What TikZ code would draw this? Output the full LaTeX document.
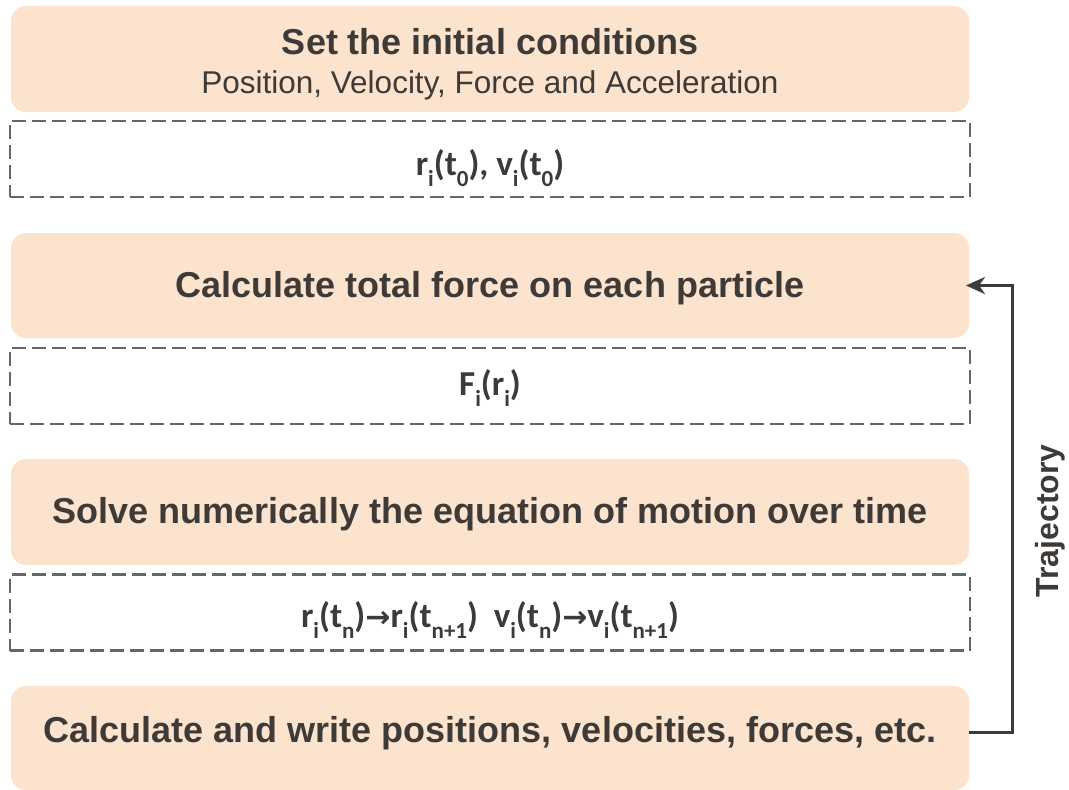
\documentclass[tikz,border=0pt]{standalone}
\usepackage{fontspec}
\setmainfont{Liberation Sans}
\newfontfamily\formfont{Carlito}
\newfontfamily\arrfont{DejaVu Sans}
\usetikzlibrary{arrows.meta}
\definecolor{peach}{HTML}{FCE3CE}
\definecolor{ink}{HTML}{3E3A37}
\definecolor{dashgray}{HTML}{666666}
\newcommand{\sbs}[1]{\raisebox{-0.32em}{\fontsize{23}{23}\selectfont #1}}
\newcommand{\rarr}{{\arrfont\bfseries\fontsize{30}{30}\selectfont →}}
\tikzset{
  stagebox/.style={rectangle, rounded corners=15pt, fill=peach, draw=none,
    minimum width=958pt, inner sep=0pt, outer sep=0pt},
  databox/.style={rectangle, draw=dashgray, line width=2.2pt,
    dash pattern=on 14pt off 6pt, minimum width=960pt, minimum height=76pt,
    inner sep=0pt, outer sep=0pt},
  title/.style={text=ink, font=\fontsize{36}{40}\selectfont\bfseries, anchor=base, inner sep=0pt},
  subtitle/.style={text=ink, font=\fontsize{31.5}{36}\selectfont, anchor=base, inner sep=0pt},
  formula/.style={text=ink, font=\fontsize{35}{40}\selectfont\formfont\bfseries, anchor=base, inner sep=0pt},
  flow/.style={draw=ink, line width=3pt, -{Stealth[length=19pt,width=17pt,inset=6pt]}, shorten >=-3pt},
  traj/.style={text=ink, font=\fontsize{32}{36}\selectfont\bfseries, inner sep=0pt}
}
\begin{document}
\begin{tikzpicture}[x=1pt,y=-1pt]
\useasboundingbox[fill=white] (0,0) rectangle (1069,790);
% stage boxes
\node[stagebox, minimum height=106pt] (box1) at (490,59) {};
\node[stagebox, minimum height=105pt] (box2) at (490,285.5) {};
\node[stagebox, minimum height=106pt] (box3) at (490,512) {};
\node[stagebox, minimum height=104pt] (box4) at (490,738) {};
% dashed data boxes
\node[databox] (data1) at (490,159) {};
\node[databox] (data2) at (490,386) {};
\node[databox] (data3) at (490,612.5) {};
% texts
\node[title] (t1) at (490,54) {Set the initial conditions};
\node[subtitle] (s1) at (490,93) {Position, Velocity, Force and Acceleration};
\node[formula] (f1) at (490,175) {r\sbs{i}(t\sbs{0}), v\sbs{i}(t\sbs{0})};
\node[title] (t2) at (490,297) {Calculate total force on each particle};
\node[formula] (f2) at (490,395) {F\sbs{i}(r\sbs{i})};
\node[title] (t3) at (490,523) {Solve numerically the equation of motion over time};
\node[formula] (f3) at (490,627) {r\sbs{i}(t\sbs{n})\rarr r\sbs{i}(t\sbs{n+1})\hspace{0.45em}v\sbs{i}(t\sbs{n})\rarr v\sbs{i}(t\sbs{n+1})};
\node[title] (t4) at (490,742) {Calculate and write positions, velocities, forces, etc.};
% feedback loop
\coordinate (rail) at (1012,0);
\draw[flow] ([yshift=6pt]box4.east) -| (rail |- box2.east) -- (box2.east);
\node[traj, rotate=90, anchor=base] (trajlabel) at (1058,521) {Trajectory};
\end{tikzpicture}
\end{document}
